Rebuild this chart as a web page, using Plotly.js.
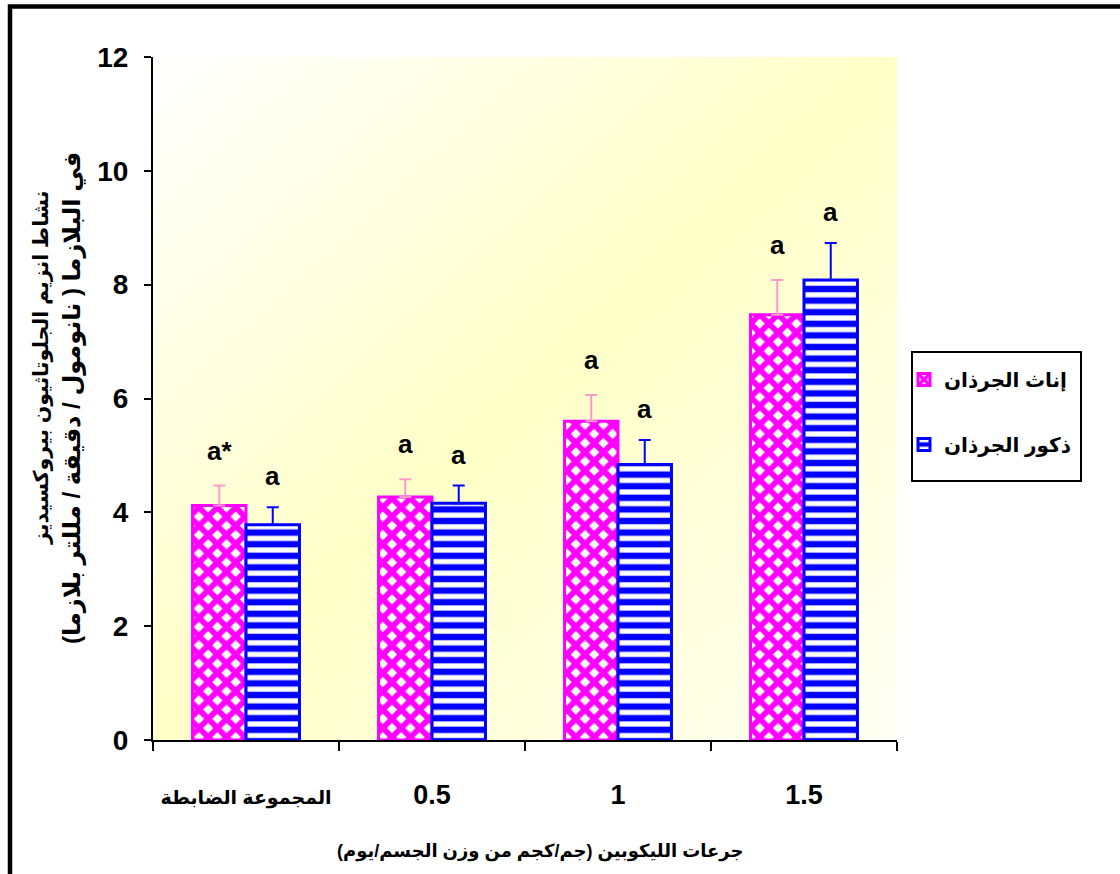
<!DOCTYPE html>
<html>
<head>
<meta charset="utf-8">
<script src="https://cdn.plot.ly/plotly-3.0.1.min.js"></script>
<style>html,body{margin:0;padding:0;background:#fff;}#chart{width:1120px;height:874px;}</style>
</head>
<body>
<div id="chart"></div>
<script>
// ---- data ----
var categories = ['المجموعة الضابطة', '0.5', '1', '1.5'];
var femaleName = 'إناث الجرذان';
var maleName = 'ذكور الجرذان';
var femaleMean = [4.12, 4.27, 5.60, 7.47];
var femaleErr = [0.35, 0.31, 0.46, 0.61];
var maleMean = [3.78, 4.16, 4.84, 8.08];
var maleErr = [0.31, 0.31, 0.43, 0.65];
var femaleLabels = ['a*', 'a', 'a', 'a'];
var maleLabels = ['a', 'a', 'a', 'a'];
var yTicks = [0, 2, 4, 6, 8, 10, 12];
var yTitleLine1 = 'نشاط انزيم الجلوتاثيون بيروكسيديز';
var yTitleLine2 = 'في البلازما ( نانومول / دقيقة / مللتر بلازما)';
var xTitle = 'جرعات الليكوبين (جم/كجم من وزن الجسم/يوم)';

// ---- style ----
var FONT = '"Liberation Sans", Arial, "DejaVu Sans", sans-serif';
var bargap = 0.425;
var W = 1120, H = 874;
var L = 153, R = 897, T = 57, B = 740;
function px2x(p) { return (p - L) / (R - L); }
function px2y(p) { return (B - p) / (B - T); }

var zeros = femaleMean.map(function () { return 0; });
var tickText = categories.map(function (c) {
  return /[\u0600-\u06FF]/.test(c) ? '<span style="font-size:19px">' + c + '</span>' : c;
});

var female = {
  type: 'bar', name: femaleName, x: categories, y: femaleMean,
  legendgroup: 'f',
  marker: {
    color: '#FF00FF',
    line: {color: '#FF00FF', width: 3},
    pattern: {shape: 'x', fgcolor: '#FF00FF', bgcolor: '#FFFFFF', size: 13, solidity: 0.68, fillmode: 'replace'}
  },
  error_y: {type: 'data', symmetric: false, array: femaleErr, arrayminus: zeros, color: '#FF99CC', thickness: 2, width: 6}
};
var male = {
  type: 'bar', name: maleName, x: categories, y: maleMean,
  legendgroup: 'm',
  marker: {
    color: '#0000FF',
    line: {color: '#0000FF', width: 3},
    pattern: {shape: '-', fgcolor: '#FFFFFF', bgcolor: '#0000FF', size: 11.6, solidity: 0.45, fillmode: 'replace'}
  },
  error_y: {type: 'data', symmetric: false, array: maleErr, arrayminus: zeros, color: '#0000FF', thickness: 2, width: 6}
};

var annotations = [];
var off = (1 - bargap) / 4;
var labFont = {family: FONT, size: 26, color: '#000', weight: 'bold'};
categories.forEach(function (c, i) {
  annotations.push({x: i - off, y: femaleMean[i] + femaleErr[i], xref: 'x', yref: 'y', text: femaleLabels[i],
    showarrow: false, yanchor: 'bottom', yshift: 18, font: labFont});
  annotations.push({x: i + off, y: maleMean[i] + maleErr[i], xref: 'x', yref: 'y', text: maleLabels[i],
    showarrow: false, yanchor: 'bottom', yshift: 14, font: labFont});
});
annotations.push({xref: 'paper', yref: 'paper', x: px2x(41), y: px2y(368), text: yTitleLine1, textangle: -90,
  showarrow: false, xanchor: 'center', yanchor: 'middle', font: {family: FONT, size: 20.5, color: '#000', weight: 'bold'}});
annotations.push({xref: 'paper', yref: 'paper', x: px2x(72), y: px2y(398), text: yTitleLine2, textangle: -90,
  showarrow: false, xanchor: 'center', yanchor: 'middle', font: {family: FONT, size: 24, color: '#000', weight: 'bold'}});
annotations.push({xref: 'paper', yref: 'paper', x: px2x(540), y: px2y(851), text: xTitle,
  showarrow: false, xanchor: 'center', yanchor: 'middle', font: {family: FONT, size: 18, color: '#000', weight: 'bold'}});

var svgBg = '<svg xmlns="http://www.w3.org/2000/svg" width="100" height="100" preserveAspectRatio="none" viewBox="0 0 100 100">' +
  '<defs><linearGradient id="g" x1="0" y1="0" x2="1" y2="1">' +
  '<stop offset="0" stop-color="#FFFFFF"/><stop offset="0.5" stop-color="#FFFFC8"/><stop offset="1" stop-color="#FFFFF4"/>' +
  '</linearGradient></defs><rect x="0" y="0" width="100" height="100" fill="url(#g)"/></svg>';

var layout = {
  width: W, height: H,
  margin: {l: L, r: W - R, t: T, b: H - B, pad: 0},
  paper_bgcolor: '#FFFFFF',
  plot_bgcolor: 'rgba(0,0,0,0)',
  barmode: 'group', bargap: bargap, bargroupgap: 0,
  showlegend: true,
  legend: {x: px2x(904), y: px2y(360), xanchor: 'left', yanchor: 'top', traceorder: 'grouped', tracegroupgap: 36,
    bgcolor: 'rgba(0,0,0,0)', borderwidth: 0, font: {family: FONT, size: 20, color: '#000', weight: 'bold'}},
  xaxis: {type: 'category', categoryorder: 'array', categoryarray: categories,
    tickmode: 'array', tickvals: categories, ticktext: tickText, tickangle: 0,
    showline: true, linecolor: '#000', linewidth: 2, ticks: 'outside', tickson: 'boundaries', ticklen: 9, tickwidth: 2, tickcolor: '#000',
    ticklabelstandoff: 30, showgrid: false, zeroline: false,
    tickfont: {family: FONT, size: 27, color: '#000', weight: 'bold'}},
  yaxis: {range: [0, 12], tickvals: yTicks, ticktext: yTicks.map(String),
    showline: true, linecolor: '#000', linewidth: 2, ticks: 'outside', ticklen: 7, tickwidth: 2, tickcolor: '#000',
    ticklabelstandoff: 10, showgrid: false, zeroline: false,
    tickfont: {family: FONT, size: 28, color: '#000', weight: 'bold'}},
  images: [{source: 'data:image/svg+xml;charset=utf-8,' + encodeURIComponent(svgBg), xref: 'paper', yref: 'paper',
    x: 0, y: 1, sizex: 1, sizey: 1, sizing: 'stretch', xanchor: 'left', yanchor: 'top', layer: 'below'}],
  shapes: [
    {type: 'rect', xref: 'paper', yref: 'paper', x0: px2x(10), x1: px2x(1130), y0: px2y(900), y1: px2y(6.5),
      line: {color: '#000', width: 4.5}, fillcolor: 'rgba(0,0,0,0)', layer: 'above'},
    {type: 'rect', xref: 'paper', yref: 'paper', x0: px2x(912), x1: px2x(1081), y0: px2y(481), y1: px2y(352),
      line: {color: '#000', width: 2}, fillcolor: '#FFFFFF', layer: 'below'}
  ],
  annotations: annotations
};

Plotly.newPlot('chart', [female, male], layout, {displayModeBar: false, staticPlot: true});
</script>
</body>
</html>
